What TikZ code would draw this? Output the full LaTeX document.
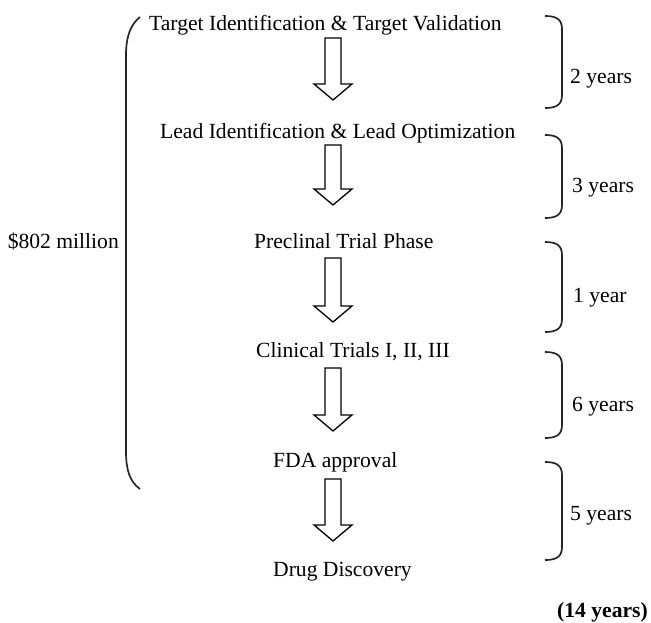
\documentclass[tikz,border=0pt]{standalone}
\usepackage{fontspec}
\setmainfont{Liberation Serif}
\begin{document}
\begin{tikzpicture}[x=1pt,y=-1pt,
  lbl/.style={font=\fontsize{21.6}{25}\selectfont, inner sep=0pt, anchor=base west},
  blk/.style={draw=black, line width=1.3pt, line join=miter, fill=white},
  brk/.style={draw=black!85, line width=1.7pt}]
\useasboundingbox (0,0) rectangle (651,622);

% stages
\node[lbl] (s1) at (149,30)  {Target Identification \& Target Validation};
\node[lbl] (s2) at (160,138) {Lead Identification \& Lead Optimization};
\node[lbl] (s3) at (254,248) {Preclinal Trial Phase};
\node[lbl] (s4) at (256,357) {Clinical Trials I, II, III};
\node[lbl] (s5) at (273,467) {FDA approval};
\node[lbl] (s6) at (273,576) {Drug Discovery};

% hollow block arrows between stages
\foreach \t/\b in {38/100,145/205,258/322,368/431,479/541}
  \draw[blk] (325,\t) -- (341,\t) -- (341,\b-16) -- (352,\b-16) -- (333,\b)
             -- (314,\b-16) -- (325,\b-16) -- cycle;

% duration brackets on the right
\foreach \t/\b in {16/108,135/218,242/332,352/438,462/560}
  \draw[brk] (545,\t) .. controls (556,\t) and (562,\t+3) .. (562,\t+13)
             -- (562,\b-13) .. controls (562,\b-3) and (556,\b) .. (545,\b);

\node[lbl] (y1) at (570,83)  {2 years};
\node[lbl] (y2) at (572,192) {3 years};
\node[lbl] (y3) at (573,302) {1 year};
\node[lbl] (y4) at (572,411) {6 years};
\node[lbl] (y5) at (570,520) {5 years};

% cost bracket on the left
\draw[brk] (140,17) .. controls (131,24) and (126,36) .. (126,55)
           -- (126,452) .. controls (126,470) and (130,482) .. (140,489);
\node[lbl, anchor=base east] (cost) at (119,248) {\$802 million};

% total duration
\node[lbl, anchor=base east] (total) at (648,617) {\textbf{(14 years)}};
\end{tikzpicture}
\end{document}
